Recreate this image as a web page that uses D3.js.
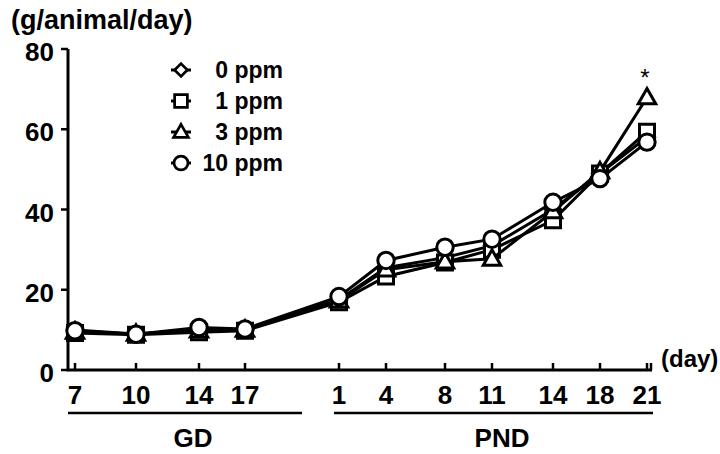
<!DOCTYPE html>
<html>
<head>
<meta charset="utf-8">
<script src="https://d3js.org/d3.v7.min.js"></script>
<style>
  body { margin: 0; background: #fff; }
  text { font-family: "Liberation Sans", Arial, sans-serif; fill: #000; }
</style>
</head>
<body>
<div id="chart"></div>
<script>
var svgWidth = 720;
var svgHeight = 454;

// x categories (gestation day / postnatal day)
var dayKeys = ["GD7", "GD10", "GD14", "GD17", "PND1", "PND4", "PND8", "PND11", "PND14", "PND18", "PND21"];
var dayLabels = ["7", "10", "14", "17", "1", "4", "8", "11", "14", "18", "21"];

var seriesNames = ["0 ppm", "1 ppm", "3 ppm", "10 ppm"];
var ppm0 = [10.0, 9.0, 10.0, 10.0, 17.5, 25.5, 28.0, 31.0, 40.0, 49.0, 58.0];
var ppm1 = [9.2, 8.8, 9.4, 9.8, 16.9, 23.3, 26.8, 30.0, 37.3, 49.0, 59.4];
var ppm3 = [9.5, 9.0, 9.8, 10.0, 17.3, 25.0, 27.0, 27.7, 39.5, 49.5, 67.9];
var ppm10 = [9.8, 8.9, 10.6, 10.2, 18.3, 27.3, 30.6, 32.6, 41.8, 47.7, 56.8];

var yTicks = [0, 20, 40, 60, 80];

var series = [
    { name: seriesNames[0], values: ppm0, shape: "diamond" },
    { name: seriesNames[1], values: ppm1, shape: "square" },
    { name: seriesNames[2], values: ppm3, shape: "triangle" },
    { name: seriesNames[3], values: ppm10, shape: "circle" }
];

var svg = d3.select("#chart")
    .append("svg")
    .attr("width", svgWidth)
    .attr("height", svgHeight);

// uneven spacing of the original axis
var xScale = d3.scaleOrdinal()
    .domain(dayKeys)
    .range([75, 136, 199, 245, 339, 386, 445, 492, 553, 600, 647]);

var yScale = d3.scaleLinear()
    .domain([0, 80])
    .range([370, 49]);

var axisLeftX = 68;
var axisRightX = 652;

// marker shapes
var shapes = {
    diamond: { draw: function (ctx, s) { var r = 7.5; ctx.moveTo(0, -r); ctx.lineTo(r, 0); ctx.lineTo(0, r); ctx.lineTo(-r, 0); ctx.closePath(); } },
    square: { draw: function (ctx, s) { var r = 7.5; ctx.rect(-r, -r, 2 * r, 2 * r); } },
    triangle: { draw: function (ctx, s) { var r = 9; ctx.moveTo(0, -r); ctx.lineTo(r * 0.97, r * 0.7); ctx.lineTo(-r * 0.97, r * 0.7); ctx.closePath(); } },
    circle: { draw: function (ctx, s) { ctx.arc(0, 0, 8.2, 0, 2 * Math.PI); } }
};

function symbolPath(shape) {
    return d3.symbol().type(shapes[shape])();
}

// y axis
svg.append("line")
    .attr("x1", axisLeftX).attr("x2", axisLeftX)
    .attr("y1", yScale(80)).attr("y2", yScale(0))
    .attr("stroke", "#000").attr("stroke-width", 3);

svg.selectAll(".ytick")
    .data(yTicks)
    .enter()
    .append("line")
    .attr("x1", axisLeftX - 7).attr("x2", axisLeftX)
    .attr("y1", d => yScale(d)).attr("y2", d => yScale(d))
    .attr("stroke", "#000").attr("stroke-width", 2.5);

svg.selectAll(".ylabel")
    .data(yTicks)
    .enter()
    .append("text")
    .attr("x", 54)
    .attr("y", d => yScale(d) + 12)
    .attr("text-anchor", "end")
    .attr("font-size", "26px")
    .attr("font-weight", "bold")
    .text(d => d);

// x axis
svg.append("line")
    .attr("x1", axisLeftX - 1.5).attr("x2", axisRightX)
    .attr("y1", 370).attr("y2", 370)
    .attr("stroke", "#000").attr("stroke-width", 3);

svg.selectAll(".xtick")
    .data(dayKeys)
    .enter()
    .append("line")
    .attr("x1", d => xScale(d)).attr("x2", d => xScale(d))
    .attr("y1", 370).attr("y2", 363)
    .attr("stroke", "#000").attr("stroke-width", 2.5);

svg.append("line")
    .attr("x1", axisRightX - 1).attr("x2", axisRightX - 1)
    .attr("y1", 370).attr("y2", 363)
    .attr("stroke", "#000").attr("stroke-width", 2.5);

svg.selectAll(".xlabel")
    .data(dayKeys)
    .enter()
    .append("text")
    .attr("x", d => xScale(d))
    .attr("y", 404)
    .attr("text-anchor", "middle")
    .attr("font-size", "26px")
    .attr("font-weight", "bold")
    .text((d, i) => dayLabels[i]);

// GD / PND brackets
svg.append("line")
    .attr("x1", 68).attr("x2", 302)
    .attr("y1", 413).attr("y2", 413)
    .attr("stroke", "#000").attr("stroke-width", 2.5);

svg.append("line")
    .attr("x1", 334).attr("x2", 653)
    .attr("y1", 413).attr("y2", 413)
    .attr("stroke", "#000").attr("stroke-width", 2.5);

svg.append("text")
    .attr("x", 193).attr("y", 447)
    .attr("text-anchor", "middle")
    .attr("font-size", "26px").attr("font-weight", "bold")
    .text("GD");

svg.append("text")
    .attr("x", 502).attr("y", 447)
    .attr("text-anchor", "middle")
    .attr("font-size", "26px").attr("font-weight", "bold")
    .text("PND");

// axis titles
svg.append("text")
    .attr("x", 11).attr("y", 29)
    .attr("font-size", "27px").attr("font-weight", "bold")
    .text("(g/animal/day)");

svg.append("text")
    .attr("x", 661).attr("y", 367)
    .attr("font-size", "24px").attr("font-weight", "bold")
    .text("(day)");

// lines
var line = d3.line()
    .x((d, i) => xScale(dayKeys[i]))
    .y(d => yScale(d));

var groups = svg.selectAll(".series")
    .data(series)
    .enter()
    .append("g");

groups.append("path")
    .attr("d", d => line(d.values))
    .attr("fill", "none")
    .attr("stroke", "#000")
    .attr("stroke-width", 3);

groups.each(function (s) {
    d3.select(this).selectAll("path.mark")
        .data(s.values)
        .enter()
        .append("path")
        .attr("class", "mark")
        .attr("d", symbolPath(s.shape))
        .attr("transform", (d, i) => `translate(${xScale(dayKeys[i])}, ${yScale(d)})`)
        .attr("fill", "#fff")
        .attr("stroke", "#000")
        .attr("stroke-width", 3);
});

// significance mark
svg.append("text")
    .attr("x", xScale("PND21") - 2)
    .attr("y", yScale(ppm3[10]) - 12)
    .attr("text-anchor", "middle")
    .attr("font-size", "24px")
    .text("*");

// legend
var legend = svg.selectAll(".legend")
    .data(series)
    .enter()
    .append("g")
    .attr("transform", (d, i) => `translate(181, ${70 + i * 31})`);

legend.append("line")
    .attr("x1", -10).attr("x2", 10)
    .attr("stroke", "#000").attr("stroke-width", 3);

legend.append("path")
    .attr("d", d => symbolPath(d.shape))
    .attr("transform", "scale(0.85)")
    .attr("fill", "#fff")
    .attr("stroke", "#000")
    .attr("stroke-width", 3.2);

legend.append("text")
    .attr("x", 102)
    .attr("y", 8)
    .attr("text-anchor", "end")
    .attr("font-size", "23px")
    .attr("font-weight", "bold")
    .text(d => d.name);
</script>
</body>
</html>
